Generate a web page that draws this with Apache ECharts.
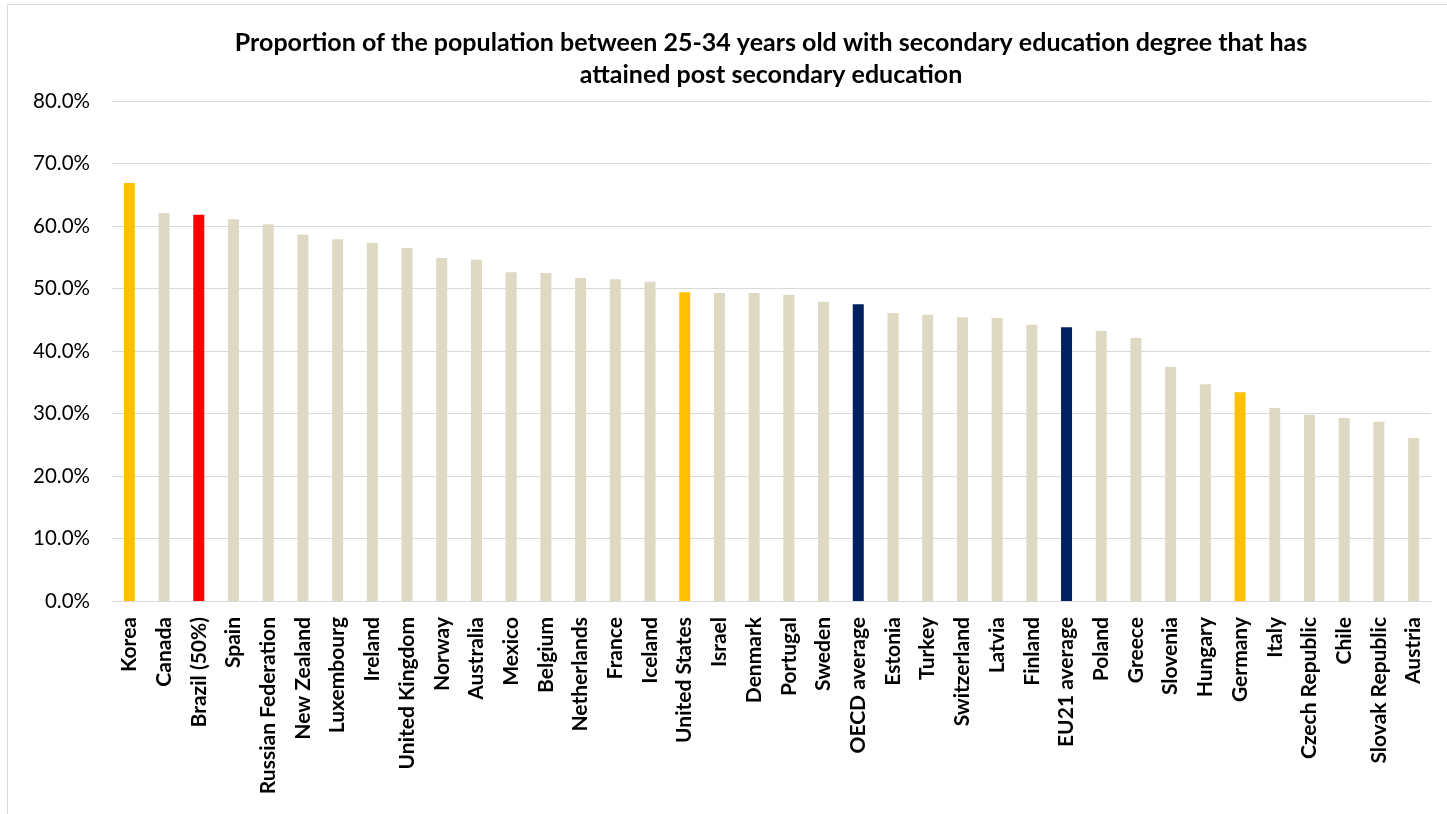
<!DOCTYPE html>
<html>
<head>
<meta charset="utf-8">
<script src="https://cdn.jsdelivr.net/npm/echarts@6/dist/echarts.min.js"></script>
<style>
  html, body { margin: 0; padding: 0; background: #fff; }
  #chart { width: 1447px; height: 814px; }
</style>
</head>
<body>
<div id="chart"></div>
<script>
// categories and values (share of population, %)
const countries = ['Korea', 'Canada', 'Brazil (50%)', 'Spain', 'Russian Federation', 'New Zealand',
  'Luxembourg', 'Ireland', 'United Kingdom', 'Norway', 'Australia', 'Mexico', 'Belgium',
  'Netherlands', 'France', 'Iceland', 'United States', 'Israel', 'Denmark', 'Portugal', 'Sweden',
  'OECD average', 'Estonia', 'Turkey', 'Switzerland', 'Latvia', 'Finland', 'EU21 average',
  'Poland', 'Greece', 'Slovenia', 'Hungary', 'Germany', 'Italy', 'Czech Republic', 'Chile',
  'Slovak Republic', 'Austria'];
const shares = [66.9, 62.1, 61.8, 61.1, 60.3, 58.6, 57.9, 57.3, 56.5, 54.9, 54.6, 52.6, 52.5,
  51.7, 51.5, 51.1, 49.4, 49.3, 49.3, 49.0, 47.9, 47.5, 46.1, 45.8, 45.4, 45.3, 44.2, 43.8,
  43.2, 42.1, 37.5, 34.7, 33.4, 30.9, 29.8, 29.3, 28.7, 26.1];
const yTicks = [0, 10, 20, 30, 40, 50, 60, 70, 80];

// highlighted groups
const highlightCountries = ['Korea', 'United States', 'Germany'];
const focusCountry = 'Brazil (50%)';
const averages = ['OECD average', 'EU21 average'];

const colorFor = name => {
  if (name === focusCountry) return '#FF0000';
  if (highlightCountries.includes(name)) return '#FFC000';
  if (averages.includes(name)) return '#002060';
  return '#DDD9C3';
};

const chart = echarts.init(document.getElementById('chart'));
chart.setOption({
  animation: false,
  backgroundColor: '#fff',
  graphic: [{
    type: 'rect',
    shape: { x: 7.5, y: 4.5, width: 1460, height: 830 },
    style: { fill: 'none', stroke: '#d9d9d9', lineWidth: 1 },
    silent: true
  }],
  title: {
    text: 'Proportion of the population between 25-34 years old with secondary education degree that has\nattained post secondary education',
    left: 766,
    textAlign: 'center',
    top: 22,
    textStyle: {
      fontFamily: 'Lato',
      fontWeight: 'bold',
      fontSize: 25,
      lineHeight: 32,
      color: '#000'
    }
  },
  grid: { left: 112, right: 16, top: 101, bottom: 213 },
  xAxis: {
    type: 'category',
    data: countries,
    axisLine: { lineStyle: { color: '#d9d9d9', width: 1 } },
    axisTick: { show: false },
    axisLabel: {
      rotate: 90,
      interval: 0,
      margin: 16,
      fontFamily: 'Lato',
      fontWeight: 'bold',
      fontSize: 21,
      color: '#000'
    }
  },
  yAxis: {
    type: 'value',
    min: yTicks[0],
    max: yTicks[yTicks.length - 1],
    interval: 10,
    axisLine: { show: false },
    axisTick: { show: false },
    splitLine: { lineStyle: { color: '#d9d9d9', width: 1 } },
    axisLabel: {
      margin: 22,
      fontFamily: 'Lato',
      fontSize: 20.5,
      color: '#000',
      formatter: v => v.toFixed(1) + '%'
    }
  },
  series: [{
    type: 'bar',
    barWidth: 11,
    data: countries.map((name, i) => ({
      value: shares[i],
      itemStyle: { color: colorFor(name) }
    }))
  }]
});
</script>
</body>
</html>
